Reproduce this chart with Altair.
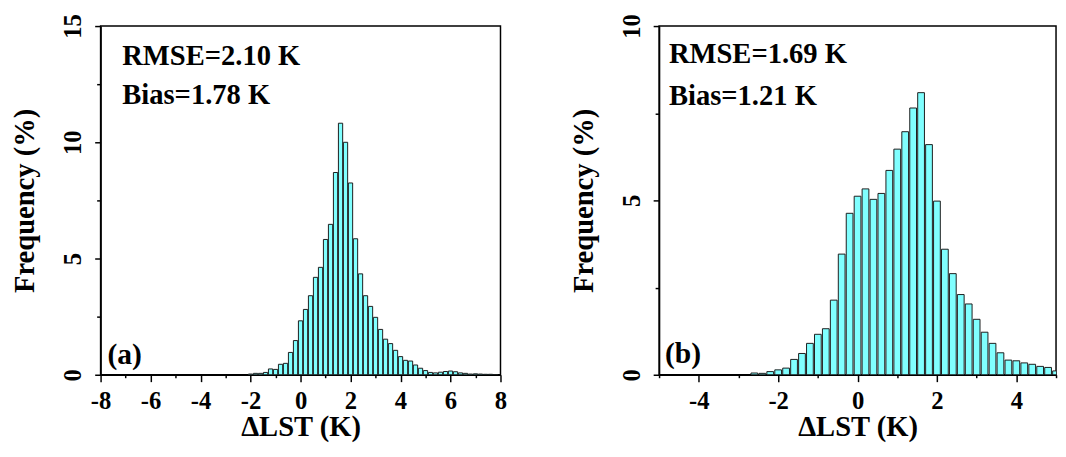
import altair as alt
import pandas as pd

# ---- data (bin centres, K; frequency, %) ----
a_centers = [-2.0, -1.8, -1.6, -1.4, -1.2, -1.0, -0.8, -0.6, -0.4, -0.2,
             0.0, 0.2, 0.4, 0.6, 0.8, 1.0, 1.2, 1.4, 1.6, 1.8,
             2.0, 2.2, 2.4, 2.6, 2.8, 3.0, 3.2, 3.4, 3.6, 3.8,
             4.0, 4.2, 4.4, 4.6, 4.8, 5.0, 5.2, 5.4, 5.6, 5.8,
             6.0, 6.2, 6.4, 6.6, 6.8, 7.0, 7.2, 7.4, 7.6, 7.8]
a_freq = [0.03, 0.06, 0.06, 0.10, 0.25, 0.23, 0.45, 0.49, 0.96, 1.47,
          2.32, 2.81, 3.40, 4.19, 4.62, 5.82, 6.47, 8.70, 10.82, 10.00,
          8.25, 5.85, 4.34, 3.40, 2.94, 2.47, 1.95, 1.53, 1.34, 1.05,
          0.78, 0.62, 0.59, 0.42, 0.28, 0.18, 0.10, 0.08, 0.11, 0.14,
          0.16, 0.13, 0.08, 0.06, 0.03, 0.04, 0.03, 0.02, 0.02, 0.01]

b_centers = [-2.6, -2.4, -2.2, -2.0, -1.8, -1.6, -1.4, -1.2, -1.0, -0.8,
             -0.6, -0.4, -0.2, 0.0, 0.2, 0.4, 0.6, 0.8, 1.0, 1.2,
             1.4, 1.6, 1.8, 2.0, 2.2, 2.4, 2.6, 2.8, 3.0, 3.2,
             3.4, 3.6, 3.8, 4.0, 4.2, 4.4, 4.6, 4.8, 5.0]
b_freq = [0.05, 0.04, 0.09, 0.14, 0.19, 0.44, 0.61, 0.90, 1.16, 1.32,
          2.14, 3.46, 4.63, 5.12, 5.33, 5.03, 5.20, 5.86, 6.47, 6.97,
          7.65, 8.09, 6.60, 4.98, 3.60, 2.90, 2.30, 2.03, 1.59, 1.22,
          0.90, 0.63, 0.42, 0.40, 0.34, 0.30, 0.24, 0.21, 0.11]

a_stats = ["RMSE=2.10 K", "Bias=1.78 K"]
b_stats = ["RMSE=1.69 K", "Bias=1.21 K"]
a_tag, b_tag = "(a)", "(b)"

FONT = "Liberation Serif"
BIN_HALF = 0.085


def panel(centers, freq, xdom, ydom, xvals, yvals, stats, tag, w, h,
          stat_x, stat_y, tag_x, tag_y):
    df = pd.DataFrame({"c": centers, "f": freq})
    base = alt.Chart(df).transform_calculate(
        x0=f"datum.c - {BIN_HALF}", x1=f"datum.c + {BIN_HALF}")
    xaxis = alt.Axis(
        values=xvals,
        labelExpr="datum.value % 2 == 0 ? '' + datum.value : ''",
        title="ΔLST (K)", labelFlush=False, labelOverlap=False,
        tickSize={"condition": {"test": "datum.value % 2 != 0", "value": 3}, "value": 7},
        labelPadding=7, titlePadding=0)
    yaxis = alt.Axis(
        values=yvals,
        labelExpr="datum.value % 5 == 0 ? '' + datum.value : ''",
        title="Frequency (%)", labelOverlap=False,
        labelAngle=270, labelAlign="center", labelBaseline="bottom",
        tickSize={"condition": {"test": "datum.value % 5 != 0", "value": 4}, "value": 6},
        labelPadding=9, titlePadding=22)
    bars = base.mark_bar(fill="#80FFFF", stroke="#1c1c1c", strokeWidth=1, clip=True).encode(
        x=alt.X("x0:Q", scale=alt.Scale(domain=xdom, nice=False, zero=False), axis=xaxis),
        x2="x1:Q",
        y=alt.Y("f:Q", scale=alt.Scale(domain=ydom, nice=False), axis=yaxis),
        y2=alt.datum(0),
    )
    sdf = pd.DataFrame({"t": stats, "yy": stat_y})
    stat_text = alt.Chart(sdf).mark_text(
        font=FONT, fontWeight="bold", fontSize=29, align="left", baseline="alphabetic",
        color="black").encode(
        x=alt.value(stat_x), y=alt.Y("yy:Q", scale=None), text="t:N")
    tdf = pd.DataFrame({"t": [tag]})
    tag_text = alt.Chart(tdf).mark_text(
        font=FONT, fontWeight="bold", fontSize=30, align="left", baseline="alphabetic",
        color="black").encode(
        x=alt.value(tag_x), y=alt.value(tag_y), text="t:N")
    return alt.layer(bars, stat_text, tag_text).properties(width=w, height=h)


left = panel(a_centers, a_freq, [-8, 8], [0, 15],
             list(range(-8, 9)), [0, 2.5, 5, 7.5, 10, 12.5, 15],
             a_stats, a_tag, 406, 354, 22, [40, 79], 7, 343)
right = panel(b_centers, b_freq, [-5, 5], [0, 10],
              list(range(-5, 6)), [0, 2.5, 5, 7.5, 10],
              b_stats, b_tag, 403, 354, 10, [37, 80], 6, 342)

chart = alt.hconcat(left, right, spacing=62).properties(
    padding={"left": 2, "top": 1, "right": 0, "bottom": 0}
).configure_view(stroke="black", strokeWidth=1.5).configure_axis(
    labelFont=FONT, labelFontWeight="bold", labelFontSize=25, labelColor="black",
    titleFont=FONT, titleFontWeight="bold", titleFontSize=29, titleColor="black",
    domainColor="black", domainWidth=1.5, tickColor="black", tickWidth=1.5,
    grid=False,
)

chart.save("out.html", embed_options={"renderer": "svg", "actions": False})
